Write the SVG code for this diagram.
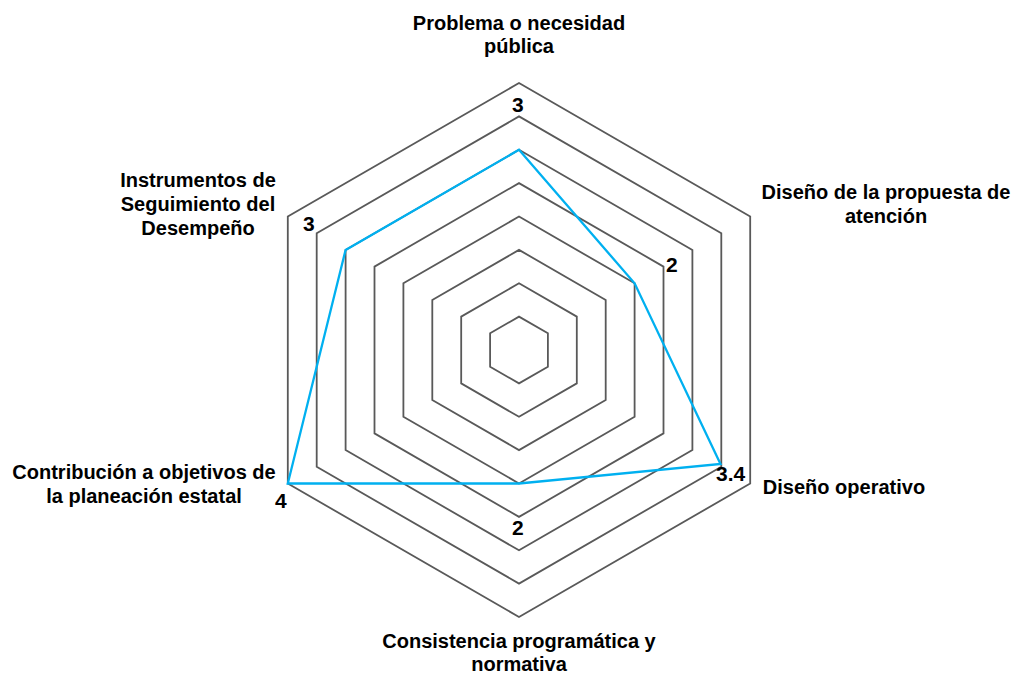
<svg xmlns="http://www.w3.org/2000/svg" width="1016" height="675" viewBox="0 0 1016 675">
<style>
.grid{fill:none;stroke:#595959;stroke-width:1.8}
.data{fill:none;stroke:#00B0F0;stroke-width:2.3;stroke-linejoin:miter}
.lbl{font-family:"Liberation Sans",Arial,sans-serif;font-weight:bold;font-size:20px;fill:#000;text-anchor:middle}
.val{font-family:"Liberation Sans",Arial,sans-serif;font-weight:bold;font-size:21px;fill:#000}
</style>
<rect width="1016" height="675" fill="#fff"/>
<g id="grid">
<polygon class="grid" points="519,316.6 547.9,333.3 547.9,366.7 519,383.4 490.1,366.7 490.1,333.3"/>
<polygon class="grid" points="519,283.3 576.8,316.6 576.8,383.4 519,416.8 461.2,383.4 461.2,316.6"/>
<polygon class="grid" points="519,249.9 605.7,299.9 605.7,400.1 519,450.1 432.3,400.1 432.3,299.9"/>
<polygon class="grid" points="519,216.5 634.6,283.3 634.6,416.8 519,483.5 403.4,416.8 403.4,283.3"/>
<polygon class="grid" points="519,183.1 663.5,266.6 663.5,433.4 519,516.9 374.5,433.4 374.5,266.6"/>
<polygon class="grid" points="519,149.8 692.4,249.9 692.4,450.1 519,550.3 345.6,450.1 345.6,249.9"/>
<polygon class="grid" points="519,116.4 721.3,233.2 721.3,466.8 519,583.6 316.7,466.8 316.7,233.2"/>
<polygon class="grid" points="519,83 750.2,216.5 750.2,483.5 519,617 287.8,483.5 287.8,216.5"/>
</g>
<g id="series">
<polygon class="data" points="519,149.8 634.6,283.3 720.5,464 519,483.5 287.8,483.5 345.6,249.9"/>
</g>
<g id="axis-top">
<text class="lbl" x="519" y="30">Problema o necesidad</text>
<text class="lbl" x="519" y="53">pública</text>
<text class="val" x="512" y="112">3</text>
</g>
<g id="axis-upper-right">
<text class="lbl" x="886" y="199">Diseño de la propuesta de</text>
<text class="lbl" x="886" y="223">atención</text>
<text class="val" x="666" y="272">2</text>
</g>
<g id="axis-lower-right">
<text class="lbl" x="844" y="494">Diseño operativo</text>
<text class="val" x="716" y="481">3.4</text>
</g>
<g id="axis-bottom">
<text class="lbl" x="519" y="648">Consistencia programática y</text>
<text class="lbl" x="519" y="671">normativa</text>
<text class="val" x="512" y="535">2</text>
</g>
<g id="axis-lower-left">
<text class="lbl" x="144" y="479">Contribución a objetivos de</text>
<text class="lbl" x="144" y="503">la planeación estatal</text>
<text class="val" x="275" y="508">4</text>
</g>
<g id="axis-upper-left">
<text class="lbl" x="198" y="187">Instrumentos de</text>
<text class="lbl" x="198" y="211">Seguimiento del</text>
<text class="lbl" x="198" y="235">Desempeño</text>
<text class="val" x="303" y="231">3</text>
</g>
</svg>
